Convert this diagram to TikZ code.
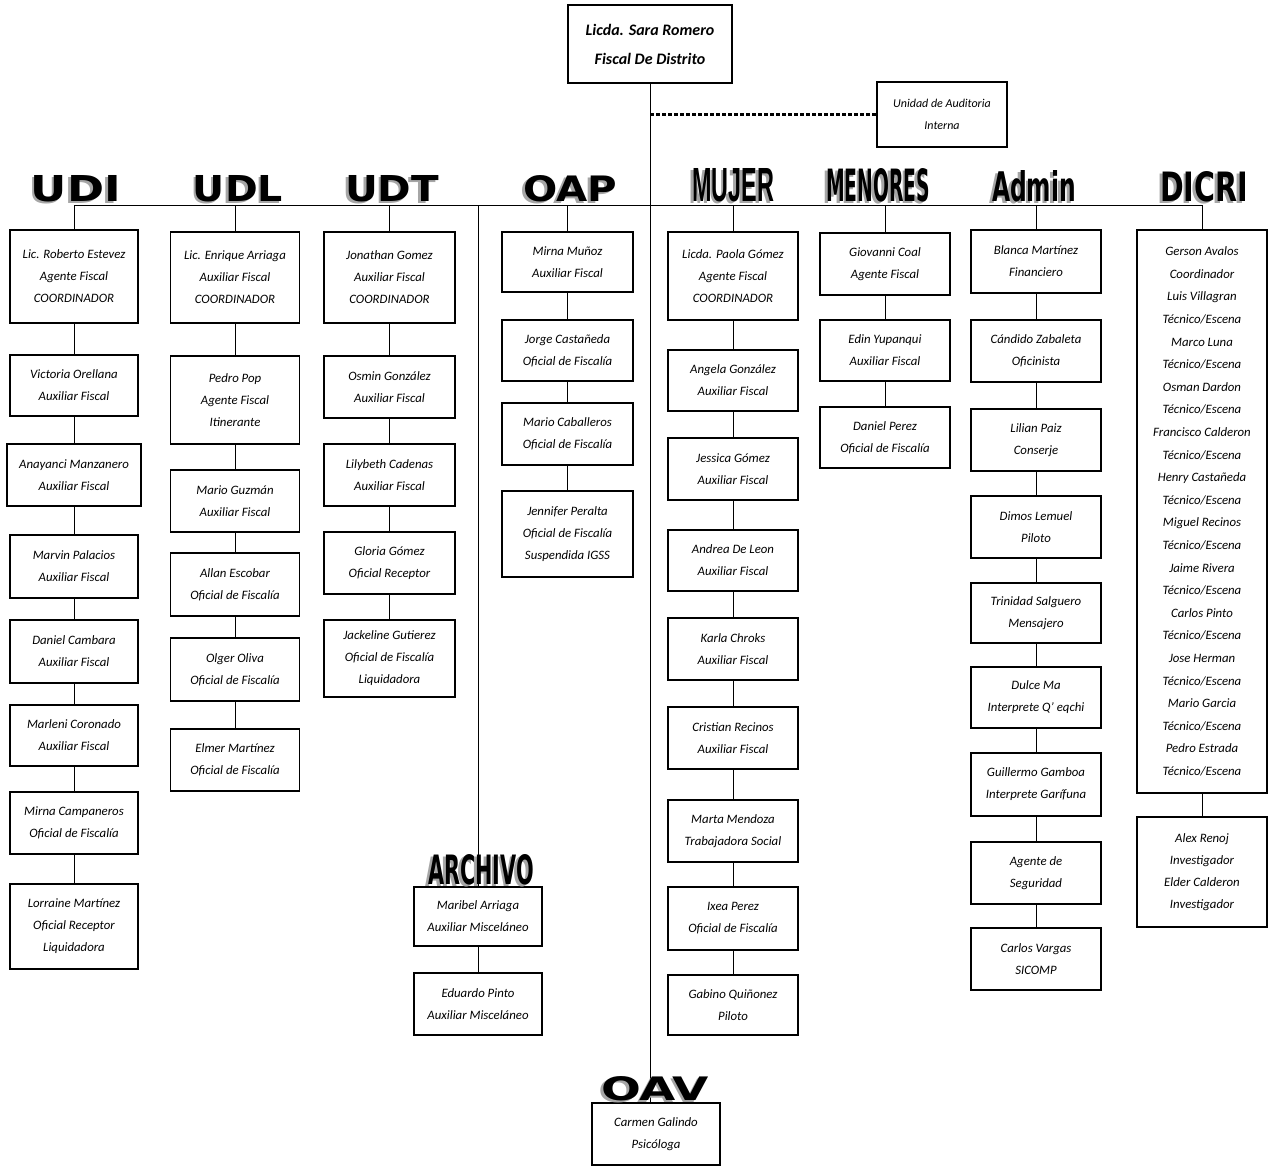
\documentclass[tikz,border=0pt]{standalone}
\usepackage{fontspec}
\usepackage{graphicx}
\setmainfont{Carlito}
\newfontfamily\hfont{DejaVu Sans}
\newfontfamily\hfontb{Liberation Sans}
\newcommand\pbox[6]{\node[bx,minimum width=#4pt,minimum height=#5pt] (#1) at (#2,#3) {#6};}
\newcommand\hdlabel[6]{%
  \node[anchor=base,inner sep=0pt,text=black!35] (#1s) at (#2-2.5,#3+2) {\resizebox{#4pt}{#5pt}{\hfont\bfseries #6}};
  \node[anchor=base,inner sep=0pt] (#1) at (#2,#3) {\resizebox{#4pt}{#5pt}{\hfont\bfseries #6}};}
\begin{document}
\begin{tikzpicture}[x=1pt,y=-1pt,
  bx/.style={draw,line width=1.2pt,inner sep=0pt,align=center,font=\fontsize{12.8}{22}\selectfont\itshape},
  ln/.style={line width=1pt}]
\useasboundingbox (0,0) rectangle (1268,1165);

% top
\node[draw,line width=1.8pt,inner sep=0pt,align=center,minimum width=164pt,minimum height=78pt,
  font=\fontsize{16}{29}\selectfont\bfseries\itshape] (top) at (650,44) {Licda. Sara Romero\\Fiscal De Distrito};
\node[draw,line width=1.2pt,inner sep=0pt,align=center,minimum width=130pt,minimum height=65pt,
  font=\fontsize{12}{22}\selectfont\itshape] (aud) at (942,114.5) {Unidad de Auditoria\\Interna};

% UDI
\pbox{u1}{74}{276.5}{128}{93}{Lic. Roberto Estevez\\Agente Fiscal\\COORDINADOR}
\pbox{u2}{74}{385.5}{128}{61}{Victoria Orellana\\Auxiliar Fiscal}
\pbox{u3}{74}{475}{134}{62}{Anayanci Manzanero\\Auxiliar Fiscal}
\pbox{u4}{74}{566.5}{128}{63}{Marvin Palacios\\Auxiliar Fiscal}
\pbox{u5}{74}{651.5}{128}{63}{Daniel Cambara\\Auxiliar Fiscal}
\pbox{u6}{74}{735.5}{128}{61}{Marleni Coronado\\Auxiliar Fiscal}
\pbox{u7}{74}{823}{128}{62}{Mirna Campaneros\\Oficial de Fiscalía}
\pbox{u8}{74}{926.5}{128}{85}{Lorraine Martínez\\Oficial Receptor\\Liquidadora}

% UDL
\pbox{l1}{235}{277.5}{129}{91}{Lic. Enrique Arriaga\\Auxiliar Fiscal\\COORDINADOR}
\pbox{l2}{235}{400}{129}{88}{Pedro Pop\\Agente Fiscal\\Itinerante}
\pbox{l3}{235}{501}{129}{62}{Mario Guzmán\\Auxiliar Fiscal}
\pbox{l4}{235}{584.5}{129}{63}{Allan Escobar\\Oficial de Fiscalía}
\pbox{l5}{235}{669.5}{129}{63}{Olger Oliva\\Oficial de Fiscalía}
\pbox{l6}{235}{760}{129}{62}{Elmer Martínez\\Oficial de Fiscalía}

% UDT
\pbox{t1}{389.5}{277.5}{131}{91}{Jonathan Gomez\\Auxiliar Fiscal\\COORDINADOR}
\pbox{t2}{389.5}{387}{131}{62}{Osmin González\\Auxiliar Fiscal}
\pbox{t3}{389.5}{475}{131}{62}{Lilybeth Cadenas\\Auxiliar Fiscal}
\pbox{t4}{389.5}{563}{131}{62}{Gloria Gómez\\Oficial Receptor}
\pbox{t5}{389.5}{658.5}{131}{77}{Jackeline Gutierez\\Oficial de Fiscalía\\Liquidadora}

% OAP
\pbox{o1}{567.5}{262}{131}{60}{Mirna Muñoz\\Auxiliar Fiscal}
\pbox{o2}{567.5}{350.5}{131}{61}{Jorge Castañeda\\Oficial de Fiscalía}
\pbox{o3}{567.5}{434}{131}{62}{Mario Caballeros\\Oficial de Fiscalía}
\pbox{o4}{567.5}{534}{131}{86}{Jennifer Peralta\\Oficial de Fiscalía\\Suspendida IGSS}

% ARCHIVO
\pbox{a1}{478}{916.5}{128}{59}{Maribel Arriaga\\Auxiliar Misceláneo}
\pbox{a2}{478}{1004}{128}{62}{Eduardo Pinto\\Auxiliar Misceláneo}

% MUJER
\pbox{m1}{733}{276}{130}{88}{Licda. Paola Gómez\\Agente Fiscal\\COORDINADOR}
\pbox{m2}{733}{380.5}{130}{61}{Angela González\\Auxiliar Fiscal}
\pbox{m3}{733}{469}{130}{62}{Jessica Gómez\\Auxiliar Fiscal}
\pbox{m4}{733}{560.5}{130}{61}{Andrea De Leon\\Auxiliar Fiscal}
\pbox{m5}{733}{649}{130}{62}{Karla Chroks\\Auxiliar Fiscal}
\pbox{m6}{733}{738}{130}{62}{Cristian Recinos\\Auxiliar Fiscal}
\pbox{m7}{733}{831}{130}{62}{Marta Mendoza\\Trabajadora Social}
\pbox{m8}{733}{918.5}{130}{63}{Ixea Perez\\Oficial de Fiscalía}
\pbox{m9}{733}{1005}{130}{60}{Gabino Quiñonez\\Piloto}

% MENORES
\pbox{n1}{885}{264}{130}{62}{Giovanni Coal\\Agente Fiscal}
\pbox{n2}{885}{350.5}{130}{61}{Edin Yupanqui\\Auxiliar Fiscal}
\pbox{n3}{885}{437.5}{130}{61}{Daniel Perez\\Oficial de Fiscalía}

% Admin
\pbox{d1}{1036}{261.5}{130}{63}{Blanca Martínez\\Financiero}
\pbox{d2}{1036}{351}{130}{62}{Cándido Zabaleta\\Oficinista}
\pbox{d3}{1036}{440}{130}{62}{Lilian Paiz\\Conserje}
\pbox{d4}{1036}{527}{130}{62}{Dimos Lemuel\\Piloto}
\pbox{d5}{1036}{613}{130}{60}{Trinidad Salguero\\Mensajero}
\pbox{d6}{1036}{697.5}{130}{61}{Dulce Ma\\Interprete Q' eqchi}
\pbox{d7}{1036}{784.5}{130}{63}{Guillermo Gamboa\\Interprete Garífuna}
\pbox{d8}{1036}{873}{130}{62}{Agente de\\Seguridad}
\pbox{d9}{1036}{959}{130}{62}{Carlos Vargas\\SICOMP}

% DICRI
\node[bx,minimum width=130pt,minimum height=563pt,font=\fontsize{12.8}{22.6}\selectfont\itshape] (c1) at (1202,511.5)
 {Gerson Avalos\\Coordinador\\Luis Villagran\\Técnico/Escena\\Marco Luna\\Técnico/Escena\\Osman Dardon\\Técnico/Escena\\Francisco Calderon\\Técnico/Escena\\Henry Castañeda\\Técnico/Escena\\Miguel Recinos\\Técnico/Escena\\Jaime Rivera\\Técnico/Escena\\Carlos Pinto\\Técnico/Escena\\Jose Herman\\Técnico/Escena\\Mario Garcia\\Técnico/Escena\\Pedro Estrada\\Técnico/Escena};
\pbox{c2}{1202}{872}{130}{110}{Alex Renoj\\Investigador\\Elder Calderon\\Investigador}

% OAV
\pbox{v1}{656}{1134}{128}{62}{Carmen Galindo\\Psicóloga}

% connectors
\coordinate (busL) at (74,205);
\coordinate (busR) at (1202,205);
\draw[ln] (busL) -- (busR);
\draw[ln] (top.south) -- (top.south |- v1.north);
\draw[line width=2.2pt,dash pattern=on 4pt off 2pt] (top.south |- aud.west) -- (aud.west);
\foreach \n in {u1,l1,t1,o1,m1,n1,d1,c1,a1}
  \draw[ln] (\n.north |- busL) -- (\n.north);
\foreach \a/\b in {u1/u2,u2/u3,u3/u4,u4/u5,u5/u6,u6/u7,u7/u8,
  l1/l2,l2/l3,l3/l4,l4/l5,l5/l6,
  t1/t2,t2/t3,t3/t4,t4/t5,
  o1/o2,o2/o3,o3/o4,
  a1/a2,
  m1/m2,m2/m3,m3/m4,m4/m5,m5/m6,m6/m7,m7/m8,m8/m9,
  n1/n2,n2/n3,
  d1/d2,d2/d3,d3/d4,d4/d5,d5/d6,d6/d7,d7/d8,d8/d9,
  c1/c2}
  \draw[ln] (\a.south) -- (\b.north);

% headers
\hdlabel{hUDI}{76}{201}{90}{26}{UDI}
\hdlabel{hUDL}{238}{201}{90}{26}{UDL}
\hdlabel{hUDT}{392}{201}{94}{26}{UDT}
\hdlabel{hOAP}{570}{201}{94}{26}{OAP}
\hdlabel{hMUJER}{733}{201}{82}{33}{\hfontb MUJER}
\hdlabel{hMEN}{878}{201}{104}{33}{MENORES}
\hdlabel{hADM}{1034}{201}{84}{31}{Admin}
\hdlabel{hDIC}{1204}{201}{88}{30}{DICRI}
\hdlabel{hARC}{481}{884}{106}{30}{ARCHIVO}
\hdlabel{hOAV}{655}{1100}{108}{24}{OAV}
\end{tikzpicture}
\end{document}
